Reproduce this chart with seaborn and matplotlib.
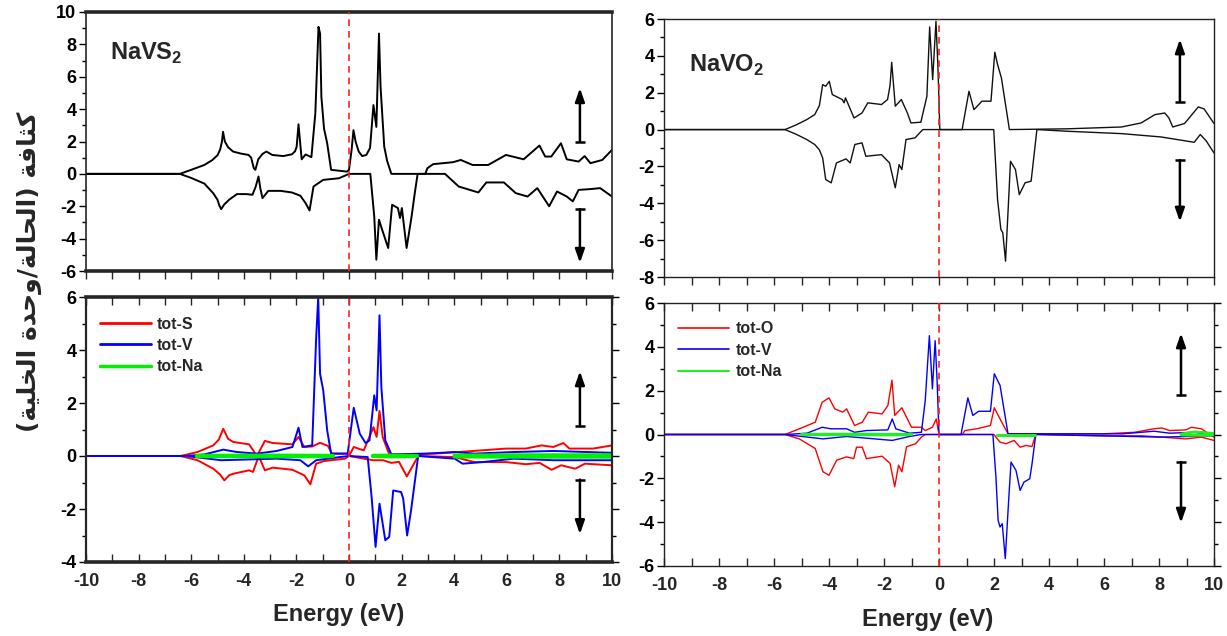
import numpy as np
import pandas as pd
import matplotlib
matplotlib.use("Agg")
import matplotlib.pyplot as plt
from matplotlib.lines import Line2D
import seaborn as sns

# ---------------- NaVS2 : total DOS ----------------
navs2_up_E = [-10, -6.43, -6.0, -5.5, -5.2, -5.0, -4.9, -4.83, -4.79, -4.72, -4.6, -4.41, -4.1, -3.82,
              -3.72, -3.62, -3.56, -3.45, -3.29, -3.14, -2.92, -2.5, -2.17, -2.05,
              -1.99, -1.92, -1.80, -1.65, -1.43, -1.28, -1.16, -1.10, -1.05, -0.95, -0.83, -0.68, -0.08,
              0.0, 0.1, 0.17, 0.25, 0.37, 0.5, 0.66, 0.8, 0.93, 1.04, 1.14, 1.20, 1.34, 1.45, 1.61, 2.90,
              2.98, 3.20, 3.95, 4.25, 4.70, 5.29, 5.97, 6.64, 7.24, 7.46, 7.69, 8.06, 8.28, 8.73, 8.96,
              9.18, 9.63, 10]
navs2_up = [0, 0, 0.25, 0.55, 0.85, 1.15, 1.5, 2.0, 2.6, 2.0, 1.65, 1.38, 1.25, 1.17,
            1.0, 0.35, 0.25, 0.9, 1.23, 1.38, 1.17, 1.1, 1.21, 1.4,
            1.68, 3.06, 0.9, 1.2, 1.03, 3.74, 9.08, 8.67, 4.76, 2.8, 1.89, 0.25, 0.14,
            0.25, 1.5, 2.7, 2.0, 1.38, 1.1, 1.17, 1.6, 4.25, 2.9, 8.67, 5.38, 1.68, 0.8, 0.0, 0.0,
            0.35, 0.6, 0.72, 0.86, 0.55, 0.55, 1.17, 0.9, 1.75, 1.07, 1.07, 1.89, 0.9, 0.76, 1.1,
            0.66, 0.86, 1.48]

navs2_dn_E = [-10, -6.43, -6.0, -5.5, -5.16, -5.0, -4.93, -4.86, -4.75, -4.56, -4.26, -3.9, -3.67, -3.55,
              -3.44, -3.37, -3.29, -3.07, -2.6, -2.17, -1.85, -1.65,
              -1.50, -1.35, -0.98, -0.38, 0.0, 0.81, 0.96, 1.04, 1.14, 1.26, 1.49, 1.64, 1.86, 1.94,
              2.01, 2.19, 2.38, 2.5, 2.61, 3.65, 4.17, 4.92, 5.22, 5.89, 6.34, 6.79, 7.16, 7.61, 7.91,
              8.28, 8.51, 8.73, 9.18, 9.55, 10]
navs2_dn = [0, 0, -0.25, -0.6, -1.2, -1.6, -1.95, -2.18, -1.9, -1.6, -1.25, -1.25, -1.29, -0.8,
            -0.16, -0.9, -1.5, -1.05, -1.05, -1.15, -1.35, -1.81,
            -2.26, -0.78, -0.37, -0.27, 0.0, 0.0, -2.63, -5.3, -2.83, -3.45, -4.58, -1.91, -2.11, -2.73,
            -2.11, -4.58, -2.63, -1.2, 0.0, 0.0, -0.78, -1.15, -0.53, -0.53, -1.19, -1.4, -0.88, -2.0,
            -1.09, -1.4, -1.7, -0.99, -0.94, -0.88, -1.4]

# ---------------- NaVS2 : partial DOS ----------------
navs2_s_up_E = [-10, -6.4, -5.76, -5.16, -4.95, -4.78, -4.6, -4.40, -3.80, -3.50, -3.20, -2.90, -2.15,
                -1.92, -1.70, -1.40, -1.10, -0.80, -0.65, -0.08, 0.0, 0.18, 0.56, 0.93, 1.05, 1.16,
                1.28, 1.53, 3.26, 4.17, 5.97, 6.72, 7.32, 7.77, 8.15, 8.38, 9.28, 10]
navs2_s_up = [0, 0, 0.15, 0.4, 0.62, 1.03, 0.65, 0.53, 0.44, 0.0, 0.57, 0.49, 0.44,
              0.72, 0.34, 0.36, 0.5, 0.38, 0.09, 0.09, 0.0, 0.34, 0.21, 1.09, 0.72, 1.7,
              0.72, 0.06, 0.09, 0.15, 0.28, 0.28, 0.4, 0.34, 0.49, 0.28, 0.28, 0.4]
navs2_s_dn_E = [-10, -6.4, -5.76, -5.16, -4.9, -4.74, -4.55, -4.40, -3.80, -3.65, -3.43, -3.20, -2.90,
                -2.15, -1.70, -1.47, -1.25, -0.95, -0.15, 0.0, 0.56, 0.93, 1.30, 1.61, 1.90, 2.20,
                2.63, 4.02, 4.77, 5.97, 6.72, 7.25, 7.70, 8.07, 8.60, 8.97, 10]
navs2_s_dn = [0, 0, -0.16, -0.48, -0.7, -0.92, -0.72, -0.67, -0.54, -0.6, 0.0, -0.54, -0.44,
              -0.52, -0.73, -1.07, -0.29, -0.19, -0.1, 0.0, -0.1, -0.16, -0.16, -0.26, -0.22, -0.77,
              0.0, -0.04, -0.23, -0.23, -0.31, -0.26, -0.52, -0.35, -0.48, -0.29, -0.35]

navs2_v_up_E = [-10, -6.2, -5.5, -4.78, -4.26, -3.50, -2.75, -2.15, -1.92, -1.77, -1.40, -1.25, -1.17,
                -1.10, -0.98, -0.83, -0.68, -0.05, 0.18, 0.41, 0.63, 0.78, 0.96, 1.05, 1.16, 1.23,
                1.38, 1.61, 2.96, 4.02, 4.77, 6.27, 7.77, 10]
navs2_v_up = [0, 0, 0.06, 0.24, 0.15, 0.09, 0.19, 0.34, 1.07, 0.34, 0.4, 4.43, 6.0,
              3.1, 2.48, 0.97, 0.09, 0.09, 1.82, 0.84, 0.49, 0.59, 2.29, 1.72, 5.31, 2.6,
              0.59, 0.06, 0.09, 0.15, 0.09, 0.15, 0.19, 0.12]
navs2_v_dn_E = [-10, -6.2, -4.86, -2.75, -1.85, -1.55, -1.25, -0.35, 0.0, 0.71, 0.86, 1.01, 1.16,
                1.38, 1.53, 1.68, 1.98, 2.06, 2.21, 2.36, 2.63, 4.02, 4.32, 5.07, 6.27, 7.77, 10]
navs2_v_dn = [0, 0, -0.16, -0.1, -0.16, -0.39, -0.16, -0.04, 0.0, -0.04, -1.55, -3.43, -1.8,
              -3.18, -3.05, -1.3, -1.36, -1.6, -3.0, -2.05, 0.0, -0.1, -0.29, -0.23, -0.1, -0.16, -0.16]

# tot-Na is only visible where it departs from the baseline: three stretches
navs2_na_E = [[-5.8, -3.0, -0.6], [0.9, 1.8, 2.6], [4.0, 7.0, 10]]
navs2_na_up = [[0.02, 0.03, 0.02], [0.02, 0.03, 0.01], [0.03, 0.04, 0.04]]
navs2_na_dn = [[-0.02, -0.03, -0.02], [-0.02, -0.03, -0.01], [-0.03, -0.04, -0.04]]

# ---------------- NaVO2 : total DOS ----------------
navo2_up_E = [-10, -5.60, -5.2, -4.81, -4.52, -4.35, -4.23, -4.12, -3.99, -3.88, -3.52, -3.45, -3.40,
              -3.09, -2.80, -2.59, -2.09, -1.87, -1.78, -1.72, -1.59, -1.37, -1.15, -1.02, -0.66, -0.44,
              -0.34, -0.23, -0.11, -0.04, 0.03, 0.84, 1.09, 1.27, 1.56, 1.89, 2.03, 2.13, 2.27, 2.56,
              4.64, 6.64, 7.35, 7.85, 8.21, 8.36, 8.50, 8.93, 9.43, 9.64, 10]
navo2_up = [0, 0, 0.25, 0.54, 0.81, 1.3, 2.44, 2.35, 2.62, 1.9, 1.63, 1.45, 1.72,
            0.63, 0.9, 1.45, 1.36, 1.63, 2.4, 3.65, 1.27, 1.63, 0.9, 0.36, 0.4, 1.81,
            5.57, 2.71, 5.88, 3.44, 0.0, 0.0, 2.08, 1.08, 1.54, 1.54, 4.2, 3.53, 2.8, 0.0,
            0.04, 0.14, 0.36, 0.81, 0.9, 0.63, 0.14, 0.33, 1.23, 1.12, 0.33]
navo2_dn_E = [-10, -5.60, -5.2, -4.81, -4.52, -4.35, -4.23, -4.12, -4.02, -3.92, -3.73, -3.38, -3.23,
              -3.06, -2.80, -2.66, -2.09, -1.80, -1.59, -1.45, -1.35, -1.20, -0.87, -0.59, 1.99, 2.13,
              2.25, 2.32, 2.42, 2.52, 2.60, 2.78, 2.92, 3.13, 3.35, 3.56, 4.64, 6.64, 8.07, 9.28, 9.50,
              9.71, 10]
navo2_dn = [0, 0, -0.25, -0.54, -0.81, -1.1, -1.54, -2.71, -2.8, -2.89, -1.81, -1.59, -1.81,
            -0.81, -0.72, -1.45, -1.36, -1.81, -3.16, -1.9, -2.17, -0.54, -0.45, 0.0, 0.0, -3.8,
            -5.42, -5.6, -7.14, -4.16, -1.72, -2.17, -3.53, -2.89, -2.8, 0.0, -0.09, -0.22, -0.4,
            -0.69, -0.27, -0.6, -1.27]

# ---------------- NaVO2 : partial DOS ----------------
navo2_o_up_E = [-10, -5.60, -5.08, -4.50, -4.25, -4.00, -3.79, -3.50, -3.36, -3.07, -2.79, -2.57, -2.07,
                -1.86, -1.71, -1.61, -1.35, -1.00, -0.64, -0.50, -0.24, -0.10, 0.0, 0.85, 0.94,
                1.37, 1.87, 2.01, 2.22, 2.51, 5.96, 7.10, 7.82, 8.10, 8.39, 8.97, 9.18, 9.54, 10]
navo2_o_up = [0, 0, 0.26, 0.56, 1.47, 1.67, 1.17, 1.02, 1.17, 0.41, 0.56, 1.02, 0.94,
              1.32, 2.48, 0.87, 1.22, 0.33, 0.33, 0.18, 0.33, 0.71, 0.0, 0.0, 0.18,
              0.26, 0.41, 1.22, 0.71, 0.03, 0.03, 0.1, 0.26, 0.3, 0.18, 0.21, 0.33, 0.26, -0.12]
navo2_o_dn_E = [-10, -5.60, -5.08, -4.50, -4.22, -4.00, -3.72, -3.36, -3.10, -3.00, -2.79, -2.64, -2.07,
                -1.78, -1.61, -1.47, -1.35, -1.18, -0.85, -0.64, -0.50, 2.00, 2.07, 2.22, 2.44,
                2.73, 2.95, 3.16, 3.38, 3.52, 5.96, 7.39, 8.10, 8.97, 9.54, 10]
navo2_o_dn = [0, 0, -0.2, -0.64, -1.7, -1.86, -1.17, -1.02, -1.1, -0.58, -0.58, -1.1, -0.99,
              -1.32, -2.38, -1.4, -1.7, -0.56, -0.42, -0.12, 0.0, 0.0, -0.12, -0.35, -0.42,
              -0.27, -0.58, -0.5, -0.55, 0.0, -0.06, -0.06, -0.12, -0.2, -0.12, -0.27]

navo2_v_up_E = [-10, -5.60, -4.80, -4.25, -3.93, -3.36, -3.07, -2.64, -1.86, -1.70, -1.57, -1.07, -0.64,
                -0.50, -0.35, -0.24, -0.14, -0.07, 0.0, 0.80, 1.05, 1.23, 1.44, 1.87, 2.01, 2.22,
                2.51, 6.67, 7.82, 8.39, 9.25, 10]
navo2_v_up = [0, 0, 0.06, 0.33, 0.26, 0.26, 0.1, 0.18, 0.21, 0.71, 0.26, 0.06, 0.1,
              1.55, 4.51, 2.08, 4.28, 2.48, 0.0, 0.0, 1.67, 0.87, 1.06, 1.06, 2.77, 2.24,
              0.03, 0.03, 0.15, 0.06, 0.1, 0.0]
navo2_v_dn_E = [-10, -5.60, -4.22, -3.36, -1.70, -1.07, -0.64, 1.96, 2.07, 2.15, 2.22, 2.30, 2.41,
                2.54, 2.62, 2.80, 2.95, 3.09, 3.30, 3.38, 3.52, 5.90, 8.07, 10]
navo2_v_dn = [0, 0, -0.2, -0.09, -0.27, -0.09, 0.0, 0.0, -1.94, -3.92, -4.22, -4.07, -5.66,
              -2.85, -1.26, -1.64, -2.55, -2.17, -2.02, -1.36, 0.0, -0.06, -0.12, -0.06]

navo2_na_E = [[-5.0, -3.0, -1.0], [2.1, 2.8, 3.5], [8.8, 9.3, 9.7, 10]]
navo2_na_up = [[0.01, 0.02, 0.01], [0.0, 0.0, 0.0], [0.02, 0.12, 0.08, 0.04]]
navo2_na_dn = [[-0.01, -0.02, -0.01], [-0.02, -0.02, -0.02], [-0.02, -0.04, -0.04, -0.02]]

# ---------------- labels ----------------
xticks = [-10, -8, -6, -4, -2, 0, 2, 4, 6, 8, 10]
ylabel_ar = "كثافة (الحالة/وحدة الخلية)"
xlabel = "Energy (eV)"
title_s = r"NaVS$_\mathbf{2}$"
title_o = r"NaVO$_\mathbf{2}$"

# Arabic contextual forms (isolated, final, initial, medial)
FORMS = {
    'ا': ('\uFE8D', '\uFE8E', None, None),
    'ة': ('\uFE93', '\uFE94', None, None),
    'ث': ('\uFE99', '\uFE9A', '\uFE9B', '\uFE9C'),
    'ح': ('\uFEA1', '\uFEA2', '\uFEA3', '\uFEA4'),
    'خ': ('\uFEA5', '\uFEA6', '\uFEA7', '\uFEA8'),
    'د': ('\uFEA9', '\uFEAA', None, None),
    'ف': ('\uFED1', '\uFED2', '\uFED3', '\uFED4'),
    'ك': ('\uFED9', '\uFEDA', '\uFEDB', '\uFEDC'),
    'ل': ('\uFEDD', '\uFEDE', '\uFEDF', '\uFEE0'),
    'و': ('\uFEED', '\uFEEE', None, None),
    'ي': ('\uFEF1', '\uFEF2', '\uFEF3', '\uFEF4'),
}


def shape_arabic(s):
    """Contextual shaping plus right-to-left ordering for a plain text renderer."""
    out = []
    for i, c in enumerate(s):
        if c not in FORMS:
            out.append(c)
            continue
        prev_joins = i > 0 and s[i - 1] in FORMS and FORMS[s[i - 1]][2] is not None
        next_joins = FORMS[c][2] is not None and i + 1 < len(s) and s[i + 1] in FORMS
        iso, fin, ini, med = FORMS[c]
        if prev_joins and next_joins:
            out.append(med)
        elif prev_joins:
            out.append(fin)
        elif next_joins:
            out.append(ini)
        else:
            out.append(iso)
    vis = "".join(reversed(out))
    return vis.translate(str.maketrans("()", ")("))


sns.set_style("ticks")
plt.rcParams['font.family'] = ['Liberation Sans', 'DejaVu Sans']
plt.rcParams['font.weight'] = 'bold'
plt.rcParams['axes.unicode_minus'] = False
plt.rcParams['mathtext.fontset'] = 'custom'
plt.rcParams['mathtext.bf'] = 'Liberation Sans:bold'
plt.rcParams['mathtext.rm'] = 'Liberation Sans:bold'

TICKFONT = ['Liberation Sans Narrow', 'Liberation Sans']

fig = plt.figure(figsize=(12.27, 6.36), dpi=100)
W, H = 1227.0, 636.0


def px_axes(l, t, r, b):
    return fig.add_axes([l / W, 1 - b / H, (r - l) / W, (b - t) / H])


ax_tl = px_axes(86, 12, 612, 271)
ax_bl = px_axes(86, 297, 612, 562)
ax_tr = px_axes(664, 19, 1214, 277)
ax_br = px_axes(664, 303, 1214, 566)


def line(ax, E, D, color, lw):
    df = pd.DataFrame({"E": E, "D": D})
    sns.lineplot(data=df, x="E", y="D", ax=ax, color=color, lw=lw, estimator=None,
                 sort=False, legend=False)


# total DOS panels
line(ax_tl, navs2_up_E, navs2_up, "black", 1.4)
line(ax_tl, navs2_dn_E, navs2_dn, "black", 1.4)
line(ax_tr, navo2_up_E, navo2_up, "#111111", 1.0)
line(ax_tr, navo2_dn_E, navo2_dn, "#111111", 1.0)

# partial DOS panels
RED, BLUE, GREEN = "#ff0000", "#0000ff", "#00ee00"
GREEN_O = "#22ee22"
line(ax_bl, navs2_s_up_E, navs2_s_up, RED, 1.4)
line(ax_bl, navs2_s_dn_E, navs2_s_dn, RED, 1.4)
line(ax_bl, navs2_v_up_E, navs2_v_up, BLUE, 1.4)
line(ax_bl, navs2_v_dn_E, navs2_v_dn, BLUE, 1.4)
for E, up, dn in zip(navs2_na_E, navs2_na_up, navs2_na_dn):
    line(ax_bl, E, up, GREEN, 2.4)
    line(ax_bl, E, dn, GREEN, 2.4)

line(ax_br, navo2_o_up_E, navo2_o_up, RED, 1.0)
line(ax_br, navo2_o_dn_E, navo2_o_dn, RED, 1.0)
line(ax_br, navo2_v_up_E, navo2_v_up, BLUE, 1.0)
line(ax_br, navo2_v_dn_E, navo2_v_dn, BLUE, 1.0)
for E, up, dn in zip(navo2_na_E, navo2_na_up, navo2_na_dn):
    line(ax_br, E, up, GREEN_O, 2.0)
    line(ax_br, E, dn, GREEN_O, 2.0)

ylims = {ax_tl: (-6, 10), ax_bl: (-4, 6), ax_tr: (-8, 6), ax_br: (-6, 6)}
for ax, (lo, hi) in ylims.items():
    ax.set_xlim(-10, 10)
    ax.set_ylim(lo, hi)
    ax.set_xlabel("")
    ax.set_ylabel("")
    ax.axvline(0, color="#ff2020", lw=1.2, ls=(0, (4, 3)), zorder=5)
    ax.set_xticks(xticks, labels=[str(v) for v in xticks], fontweight='bold',
                  fontsize=13, family=TICKFONT)
    ax.set_xticks(np.arange(-10, 11, 1), minor=True)
    yt = list(range(lo, hi + 1, 2))
    ax.set_yticks(yt, labels=[str(v) for v in yt], fontweight='bold', fontsize=13,
                  family=TICKFONT)
    ax.set_yticks(np.arange(lo, hi + 1, 1), minor=True)
    ax.tick_params(axis='y', which='both', direction='out', left=True, right=False,
                   pad=2, colors='black')
    ax.tick_params(axis='y', which='major', length=5, width=1)
    ax.tick_params(axis='y', which='minor', length=3, width=1)

# top panels: outward ticks below, no tick labels
for ax in (ax_tl, ax_tr):
    ax.tick_params(axis='x', which='both', direction='out', bottom=True, top=False,
                   labelbottom=False, length=6, width=1)

# bottom panels: inward ticks along the energy axis, mirrored ticks on the right
for ax in (ax_bl, ax_br):
    ax.tick_params(axis='x', which='both', direction='in', bottom=True, top=True,
                   labelbottom=True, length=6, width=1, pad=8)
    ax.yaxis.set_ticks_position('both')
    ax.tick_params(axis='y', which='both', left=True, right=True, labelleft=True,
                   labelright=False)

ax_bl.set_xlabel(xlabel, fontsize=17, fontweight='bold', family=['Liberation Sans'])
ax_bl.xaxis.set_label_coords(0.48, -0.155)
ax_br.set_xlabel(xlabel, fontsize=17, fontweight='bold', family=['Liberation Sans'])
ax_br.xaxis.set_label_coords(0.48, -0.16)

# spine weights
for sp in ax_tl.spines.values():
    sp.set_linewidth(1.2)
ax_tl.spines['top'].set_linewidth(2.6)
ax_tl.spines['bottom'].set_linewidth(2.6)
for sp in ax_bl.spines.values():
    sp.set_linewidth(1.6)
ax_bl.spines['top'].set_linewidth(2.6)
ax_bl.spines['bottom'].set_linewidth(2.6)
for ax in (ax_tr, ax_br):
    for sp in ax.spines.values():
        sp.set_linewidth(1.0)
        sp.set_color("#222222")

# compound labels
ax_tl.text(0.046, 0.89, title_s, transform=ax_tl.transAxes, fontsize=17, fontweight='bold',
           family=['Liberation Sans'], va='top')
ax_tr.text(0.045, 0.87, title_o, transform=ax_tr.transAxes, fontsize=17, fontweight='bold',
           family=['Liberation Sans'], va='top')

# legends
leg_s = [Line2D([], [], color=RED, lw=2), Line2D([], [], color=BLUE, lw=2),
         Line2D([], [], color=GREEN, lw=2.5)]
ax_bl.legend(leg_s, ["tot-S", "tot-V", "tot-Na"], loc='upper left', bbox_to_anchor=(0.0, 0.98),
             frameon=False, prop={'weight': 'bold', 'size': 11.5, 'family': 'Liberation Sans'},
             handlelength=3.2, handletextpad=0.3, labelspacing=0.4, borderaxespad=0.5)
leg_o = [Line2D([], [], color=RED, lw=1.2), Line2D([], [], color=BLUE, lw=1.2),
         Line2D([], [], color=GREEN_O, lw=1.5)]
ax_br.legend(leg_o, ["tot-O", "tot-V", "tot-Na"], loc='upper left', bbox_to_anchor=(0.0, 0.985),
             frameon=False, prop={'weight': 'bold', 'size': 11.5, 'family': 'Liberation Sans'},
             handlelength=3.2, handletextpad=0.4, labelspacing=0.4, borderaxespad=0.5)


# spin arrows: a flat tail bar and a filled head
def spin_arrows(ax, x, up, down):
    for (y0, y1) in (up, down):
        ax.annotate("", xy=(x, y1), xytext=(x, y0),
                    arrowprops=dict(arrowstyle="-|>,head_length=0.8,head_width=0.28",
                                    color="black", lw=1.8, shrinkA=0, shrinkB=0))
        ax.plot([x - 0.18, x + 0.18], [y0, y0], color="black", lw=1.8,
                solid_capstyle='butt')


spin_arrows(ax_tl, 8.78, (2.0, 5.3), (-2.18, -5.5))
spin_arrows(ax_bl, 8.78, (1.13, 3.2), (-0.89, -2.95))
spin_arrows(ax_tr, 8.76, (1.5, 4.9), (-1.66, -5.0))
spin_arrows(ax_br, 8.80, (1.78, 4.62), (-1.26, -4.03))

# shared y label (Arabic)
fig.text(0.024, 0.572, shape_arabic(ylabel_ar), rotation=90, ha='center', va='center',
         fontsize=18, fontweight='bold', family=['DejaVu Sans'])

fig.savefig("out.png", dpi=100)
